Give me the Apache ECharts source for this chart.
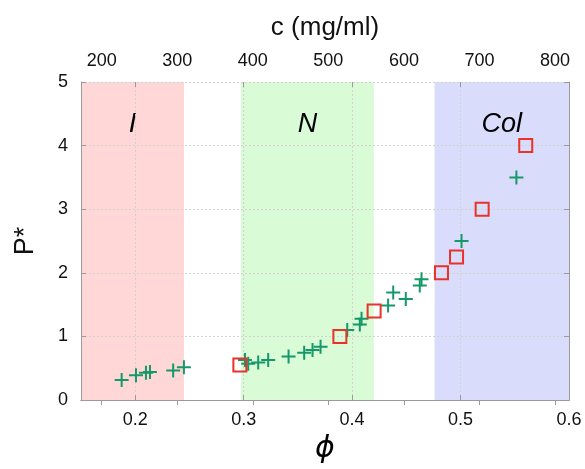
<!DOCTYPE html>
<html>
<head>
<meta charset="utf-8">
<style>
  html, body { margin: 0; padding: 0; background: #fff; }
  #chart { width: 585px; height: 469px; }
</style>
<script src="https://cdn.jsdelivr.net/npm/echarts@6/dist/echarts.min.js"></script>
</head>
<body>
<div id="chart"></div>
<script>
// Volume fraction (phi) and reduced pressure P* for the two data sets
const crossPhi = [0.1875, 0.2007, 0.2099, 0.2136, 0.235, 0.2449,
                  0.3012, 0.3042, 0.3134, 0.3226, 0.3414, 0.3558, 0.3635, 0.3709,
                  0.3955, 0.4071, 0.4087, 0.4332, 0.4379, 0.4495, 0.4624, 0.464,
                  0.5009, 0.5515];
const crossP   = [0.315, 0.39, 0.43, 0.44, 0.467, 0.517,
                  0.63, 0.57, 0.59, 0.63, 0.685, 0.746, 0.786, 0.837,
                  1.10, 1.19, 1.28, 1.487, 1.69, 1.59, 1.80, 1.90,
                  2.50, 3.50];

const squarePhi = [0.2965, 0.3887, 0.4203, 0.4824, 0.4963, 0.5199, 0.5601];
const squareP   = [0.55, 1.0, 1.4, 2.0, 2.25, 3.0, 4.0];

// Phase regions along phi
const phaseNames = ['I', 'N', 'Col'];
const phaseStart = [0.15, 0.2975, 0.476];
const phaseEnd   = [0.245, 0.42, 0.6];
const phaseColors = ['#FFD7D7', '#D9FBD6', '#D9DCFB'];

// Axis ranges
const phiMin = 0.15, phiMax = 0.6;
const cMin = 172.6, cMax = 818.5;   // concentration scale matching the phi range
const pMin = 0, pMax = 5;

const FONT = 'Liberation Sans, Arial, sans-serif';
const frameColor = '#9a9a9a';
const gridLine = { show: true, lineStyle: { color: '#d2d2d2', type: [2, 2], width: 1 } };

const crossPath = 'path://M6,0H8V6H14V8H8V14H6V8H0V6H6Z';

const chart = echarts.init(document.getElementById('chart'), null, { renderer: 'canvas' });

chart.setOption({
  animation: false,
  backgroundColor: '#ffffff',
  grid: { left: 81, right: 16, top: 82, bottom: 59, containLabel: false },
  xAxis: [
    {
      type: 'value', position: 'bottom', min: phiMin, max: phiMax, splitNumber: 5, z: 3,
      name: '\u03d5', nameLocation: 'middle', nameGap: 30,
      nameTextStyle: { fontFamily: 'DejaVu Sans, sans-serif', fontStyle: 'italic', fontSize: 30, color: '#000' },
      axisLine: { show: true, lineStyle: { color: frameColor, width: 1 } },
      axisTick: { show: true, inside: true, length: 5, lineStyle: { color: frameColor } },
      axisLabel: { fontFamily: FONT, fontSize: 18, color: '#111', margin: 11, showMinLabel: false,
                   formatter: v => v.toFixed(1) },
      splitLine: gridLine
    },
    {
      type: 'value', position: 'top', min: cMin, max: cMax, splitNumber: 6, z: 3,
      name: 'c (mg/ml)', nameLocation: 'middle', nameGap: 41,
      nameTextStyle: { fontFamily: FONT, fontSize: 26, color: '#111' },
      axisLine: { show: true, lineStyle: { color: frameColor, width: 1 } },
      axisTick: { show: true, inside: true, length: 5, lineStyle: { color: frameColor } },
      axisLabel: { fontFamily: FONT, fontSize: 18, color: '#111', margin: 12,
                   showMinLabel: false, showMaxLabel: false },
      splitLine: { show: false }
    },
    {
      type: 'value', position: 'top', min: phiMin, max: phiMax, splitNumber: 5, z: 3,
      axisLine: { show: false },
      axisTick: { show: true, inside: true, length: 5, lineStyle: { color: frameColor } },
      axisLabel: { show: false },
      splitLine: { show: false }
    }
  ],
  yAxis: [
    {
      type: 'value', position: 'left', min: pMin, max: pMax, interval: 1, z: 3,
      name: 'P*', nameLocation: 'middle', nameGap: 42, nameRotate: 90,
      nameTextStyle: { fontFamily: FONT, fontSize: 27, color: '#111' },
      axisLine: { show: true, lineStyle: { color: frameColor, width: 1 } },
      axisTick: { show: true, inside: true, length: 5, lineStyle: { color: frameColor } },
      axisLabel: { fontFamily: FONT, fontSize: 18, color: '#111', margin: 13 },
      splitLine: gridLine
    },
    {
      type: 'value', position: 'right', min: pMin, max: pMax, interval: 1, z: 3,
      axisLine: { show: true, lineStyle: { color: frameColor, width: 1 } },
      axisTick: { show: true, inside: true, length: 5, lineStyle: { color: frameColor } },
      axisLabel: { show: false },
      splitLine: { show: false }
    }
  ],
  series: [
    {
      // phase bands with their names
      type: 'scatter', name: 'phases', xAxisIndex: 0, yAxisIndex: 0, data: [], z: 1,
      markArea: {
        silent: true,
        data: phaseNames.map((n, i) => [
          { name: n, xAxis: phaseStart[i], yAxis: pMax,
            itemStyle: { color: phaseColors[i], opacity: 1 } },
          { xAxis: phaseEnd[i], yAxis: pMin }
        ]),
        label: {
          show: true, position: 'insideTop', distance: 29,
          fontFamily: FONT, fontStyle: 'italic', fontSize: 27, color: '#000'
        }
      }
    },
    {
      type: 'scatter', name: 'cross', xAxisIndex: 0, yAxisIndex: 0, z: 5,
      symbol: crossPath, symbolSize: 14,
      itemStyle: { color: '#16996A', opacity: 1 },
      data: crossPhi.map((x, i) => [x, crossP[i]])
    },
    {
      type: 'scatter', name: 'square', xAxisIndex: 0, yAxisIndex: 0, z: 6,
      symbol: 'rect', symbolSize: 13,
      itemStyle: { color: 'rgba(0,0,0,0)', borderColor: '#E8322A', borderWidth: 2, opacity: 1 },
      data: squarePhi.map((x, i) => [x, squareP[i]])
    }
  ]
});
</script>
</body>
</html>
